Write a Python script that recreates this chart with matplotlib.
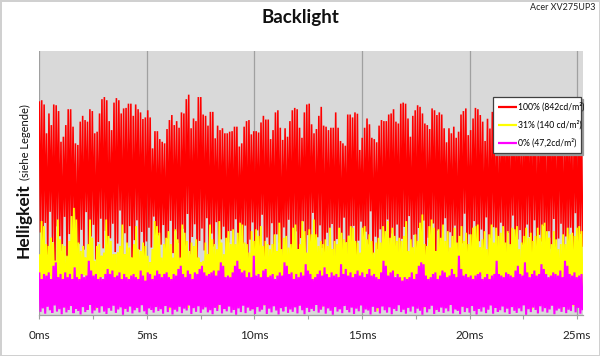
import numpy as np
import matplotlib
matplotlib.use("Agg")
import matplotlib.pyplot as plt

plt.rcParams['font.family'] = ['Lato', 'DejaVu Sans']

# ---- data (brightness, arbitrary units 0..1000; time in ms) ----
t_end = 25.26
x_major = [0, 5, 10, 15, 20, 25]
x_labels = ["0ms", "5ms", "10ms", "15ms", "20ms", "25ms"]
x_minor = [2.5, 7.5, 12.5, 17.5, 22.5]

red_peaks = [
    808, 812, 796, 687, 762, 718, 796, 793, 771, 655,
    674, 718, 778, 778, 712, 649, 643, 731, 753, 737,
    731, 778, 771, 687, 693, 762, 816, 824, 812, 733,
    699, 803, 820, 812, 762, 781, 783, 799, 799, 753,
    796, 778, 766, 741, 747, 774, 747, 630, 695, 695,
    665, 655, 649, 703, 737, 756, 718, 733, 708, 766,
    762, 816, 833, 706, 743, 733, 824, 824, 758, 753,
    716, 768, 768, 668,
    716, 699, 706, 687, 687, 693, 695, 712, 712, 637,
    649, 712, 733, 737, 683, 695, 695, 690, 728, 753,
    739, 739, 665, 699, 766, 774, 708, 662, 706, 674,
    733, 774, 783, 778, 708, 670, 766, 796, 799, 721,
    687, 703, 753, 787, 716, 712, 699, 708, 708, 766,
    708, 658, 649, 640, 758, 758, 747, 766, 761, 624,
    670, 708, 743, 721, 670, 665, 653, 716, 737, 733,
    733, 758, 762, 778, 731, 724, 799, 803, 799, 743,
    674, 753, 774, 793, 787, 762, 724, 718, 703, 781,
    774, 756, 766, 758, 706, 653, 706, 687, 712, 670,
    693, 758, 771, 781, 680, 699, 743, 783, 778, 756,
    731, 658,
    742, 705, 768, 690, 731, 655, 720, 776, 748, 702,
    688, 735, 760, 712, 668, 744, 781, 726, 699, 752,
    710, 672, 738, 765, 695, 718, 758, 729, 684, 740,
    771, 708, 693, 746, 719, 663, 733, 702, 748, 722,
]
red_troughs = [
    312, 265, 348, 228, 390, 276, 205, 335, 298, 242,
    371, 219, 306, 284, 352, 196, 268, 322, 247, 389,
    230, 297, 341, 210, 276, 364, 252, 318, 188, 290,
    345, 238, 270, 395, 224, 309, 261, 336, 201, 283,
    358, 246, 314, 192, 278, 330, 255, 372, 216, 301,
    266, 340, 208, 289, 356, 234, 317, 272, 198, 326,
    250, 382, 229, 295, 343, 213, 280, 327, 244, 366,
    202, 308, 259, 351, 226, 286, 334, 190, 274, 318,
    241, 362, 215, 299, 269, 338, 207, 285, 350, 232,
    320, 256, 379, 211, 293, 264, 347, 222, 305, 273,
    195, 331, 248, 360, 236, 282, 316, 203, 291, 354,
    227, 302, 271, 386, 218, 294, 339, 253, 183, 311,
    262, 344, 209, 287, 328, 245, 368, 221, 300, 258,
    337, 199, 281, 353, 231, 315, 267, 392, 214, 296,
    249, 324, 204, 277, 361, 237, 308, 260, 342, 193,
    288, 333, 223, 374, 251, 303, 217, 329, 275, 357,
    206, 292, 263, 346, 235, 319, 186, 284, 366, 240,
    313, 257, 338, 212, 298, 271, 383, 229, 305, 247,
    355, 200, 279, 323, 243, 369, 216, 290, 332, 261,
    225, 349, 274, 197, 310, 254, 376, 233, 286, 321,
    266, 208, 342, 295, 239, 358, 220, 303, 278, 336,
    191, 317, 250, 363, 228, 289, 345, 214, 297, 270,
    330, 244, 385, 219, 306, 258,
]

yellow_peaks = [
    230, 355, 336, 268, 261, 292, 274, 205, 361, 286,
    268, 261, 224, 280, 374, 405, 361, 274, 242, 261,
    217, 268, 361, 292, 205, 261, 268, 224, 236, 361,
    299, 280, 230, 230, 236, 261, 342, 230, 274, 255,
    217, 268, 336, 249, 242, 274, 261, 224, 199, 249,
    355, 336, 311, 217, 268, 292, 317, 268, 217, 324,
    286, 217, 342, 311, 280, 242, 274, 261, 286, 217,
    199, 205, 274, 230, 342, 286, 268, 249, 355, 274,
    230,
    292, 317, 268, 324, 268, 311, 349, 342, 274, 268,
    236, 317, 280, 324, 299, 336, 261, 280, 268, 249,
    268, 305, 242, 349, 249, 292, 299, 255, 268, 330,
    342, 249, 268, 355, 317, 236, 324, 305, 361, 305,
    261, 280, 268, 286, 261, 330, 249, 280, 268, 330,
    311, 286, 274, 299, 336, 330, 280, 274, 236, 330,
    336, 286, 305, 280, 236, 274, 292, 274, 336, 317,
    355, 292, 330, 299, 280, 292,
    280, 299, 355, 242, 286, 255, 305, 280, 349, 380,
    268, 261, 336, 361, 330, 242, 324, 292, 342, 280,
    317, 255, 299, 330, 274, 299, 336, 280, 311, 268,
    305, 330, 336, 342, 255, 286, 317, 249, 305, 342,
    274, 330, 299, 311, 336, 274, 317, 268, 330, 324,
    336, 249, 274, 299, 330, 292, 311, 280, 299, 330,
    292, 342, 349, 317, 292, 268, 317, 286, 249, 268,
    305, 268, 330, 305, 311, 299, 330, 336, 317,
]
yellow_troughs = [
    85, 42, 120, 63, 148, 30, 97, 71, 134, 52,
    110, 25, 88, 139, 60, 104, 37, 126, 79, 151,
    46, 115, 68, 93, 22, 131, 57, 144, 82, 35,
    101, 66, 128, 49, 157, 74, 18, 112, 90, 137,
    54, 123, 28, 96, 145, 61, 107, 40, 118, 77,
    140, 33, 99, 58, 126, 84, 20, 113, 69, 149,
    44, 106, 81, 135, 27, 92, 62, 121, 50, 154,
    72, 38, 116, 87, 142, 55, 102, 24, 130, 65,
    97, 147, 41, 109, 76, 125, 31, 89, 59, 138,
    83, 19, 117, 67, 152, 48, 103, 36, 129, 74,
    111, 57, 143, 26, 94, 64, 133, 45, 119, 86,
    34, 150, 70, 98, 23, 124, 80, 141, 53, 108,
    63, 136, 29, 91, 115, 47, 156, 78, 39, 127,
    95, 58, 146, 21, 105, 73, 132, 43, 118, 68,
    153, 37, 100, 84, 127, 51, 14, 114, 66, 140,
    90, 32, 122, 75, 148, 56, 107, 27, 135, 61,
    99, 145, 44, 112, 79, 130, 24, 87, 60, 137,
    81, 17, 120, 71, 151, 49, 104, 35, 128, 76,
    113, 54, 142, 30, 96, 65, 134, 42, 121, 88,
    38, 147, 72, 102, 25, 126, 83, 139, 52, 110,
    64, 133, 29, 93, 116, 46, 155, 77, 40, 124,
    98, 57, 144, 22, 106, 70, 131, 45, 117, 67,
    150, 36, 101, 85, 128, 50, 19, 111, 63, 138,
    92, 33, 119, 74, 146, 55,
]

magenta_peaks = [
    161, 136, 155, 149, 161, 136, 186, 199, 143, 155,
    136, 161, 143, 155, 136, 180, 143, 136, 155, 143,
    149, 205, 168, 149, 155, 136, 143, 136, 155, 174,
    155, 168, 143, 149, 161, 136, 155, 143, 136, 149,
    155, 143, 136, 168, 149, 130, 161, 155, 136, 149,
    168, 155, 143, 155, 161, 143, 136, 155, 149, 174,
    186, 155, 143, 168, 155, 136, 161, 155, 174, 186,
    161, 149, 155, 161, 168, 149, 168,
    199, 186, 143, 149, 143, 161, 186, 205, 174, 161,
    168, 143, 161, 143, 224, 149, 155, 143, 168, 174,
    143, 149, 155, 136, 149, 161, 149, 199, 186, 155,
    161, 136, 155, 143, 161, 149, 192, 168, 155, 136,
    143, 155, 168, 149, 180, 155, 143, 161, 149, 155,
    143, 192, 155, 174, 149, 161, 143, 155, 168, 149,
    161, 143, 155, 174, 149, 155, 143, 136, 161, 205,
    186, 149, 161, 168, 143, 155,
    143, 130, 143, 136, 143, 161, 136, 155, 186, 199,
    192, 149, 136, 143, 155, 161, 136, 149, 168, 161,
    143, 149, 174, 155, 143, 224, 174, 149, 155, 143,
    149, 136, 149, 155, 161, 136, 143, 155, 136, 149,
    155, 205, 155, 149, 143, 161, 155, 149, 143, 168,
    186, 155, 149, 199, 161, 143, 155, 168, 149, 155,
    192, 174, 155, 143, 149, 161, 155, 149, 168, 143,
    205, 186, 155, 149, 161, 143, 149, 155,
]
magenta_troughs = [
    12, 25, 5, 31, 18, 8, 36, 14, 22, 3,
    28, 10, 19, 34, 7, 24, 15, 2, 30, 11,
    20, 38, 6, 17, 27, 9, 33, 13, 4, 26,
    16, 35, 8, 21, 29, 1, 23, 12, 32, 6,
    18, 27, 10, 37, 14, 3, 25, 19, 9, 30,
    15, 22, 5, 34, 11, 28, 2, 20, 13, 31,
    7, 24, 17, 36, 4, 26, 12, 33, 8, 21,
    29, 10, 18, 3, 27, 15, 38, 6, 23, 14,
    32, 9, 19, 1, 25, 11, 35, 7, 28, 16,
    22, 5, 30, 13, 20, 37, 4, 24, 10, 33,
    17, 2, 26, 14, 31, 8, 21, 12, 29, 6,
    35, 18, 3, 27, 11, 23, 15, 38, 9, 20,
    32, 5, 25, 16, 1, 30, 13, 22, 7, 34,
    19, 10, 28, 4, 24, 14, 36, 8, 21, 17,
    2, 31, 12, 26, 6, 33, 18, 9, 29, 3,
    23, 15, 37, 11, 20, 5, 27, 13, 32, 7,
    24, 16, 1, 30, 10, 22, 35, 4, 19, 12,
    28, 8, 25, 14, 38, 6, 21, 17, 3, 31,
    11, 26, 9, 34, 15, 2, 23, 13, 29, 7,
    20, 36, 5, 27, 12, 18, 32, 10, 24, 4,
    30, 16, 8, 25, 14, 37, 1, 22, 11, 28,
    19, 6, 33, 13, 26, 9, 21, 35, 3, 17,
    24, 12, 30, 7, 20, 15, 38, 10, 27, 5,
    18,
]

series_labels = ["100% (842cd/m²)", "31% (140 cd/m²)", "0% (47,2cd/m²)"]
series_colors = ["#FF0000", "#FFFF00", "#FF00FF"]
series_widths = [1.15, 1.3, 1.5]


def signal(peaks, troughs):
    n = min(len(peaks), len(troughs))
    y = np.column_stack([peaks[:n], troughs[:n]]).ravel()
    x = np.linspace(0, t_end, len(y))
    return x, y


fig = plt.figure(figsize=(6.0, 3.56), dpi=100)
fig.patch.set_facecolor("white")
ax = fig.add_axes([39.3 / 600, 41 / 356, 543.4 / 600, 264.5 / 356])
ax.set_facecolor("#D9D9D9")

for (pk, tr), lab, col, lw in zip(
        [(red_peaks, red_troughs), (yellow_peaks, yellow_troughs),
         (magenta_peaks, magenta_troughs)],
        series_labels, series_colors, series_widths):
    xs, ys = signal(pk, tr)
    ax.plot(xs, ys, color=col, lw=lw, label=lab, solid_joinstyle="miter",
            solid_capstyle="butt", zorder=2)

ax.set_xlim(0, t_end)
ax.set_ylim(0, 1000)
ax.set_yticks([])
ax.set_xticks(x_major)
ax.set_xticklabels(x_labels, fontsize=8.5, color="#222222")
ax.set_xticks(x_minor, minor=True)
ax.tick_params(axis="x", which="both", direction="out", length=3,
               width=0.8, color="#A0A0A0", pad=8)
ax.grid(axis="x", which="major", color="#A0A0A0", lw=0.9)
for g in ax.get_xgridlines():
    g.set_zorder(0.5)
for s in ["top", "right", "left"]:
    ax.spines[s].set_visible(False)
ax.spines["bottom"].set_color("#A0A0A0")
ax.spines["bottom"].set_linewidth(0.9)
ax.spines["bottom"].set_zorder(3)

leg = ax.legend(loc="upper left",
                bbox_to_anchor=(493 / 600, (356 - 148) / 356, 88 / 600, 51 / 356),
                bbox_transform=fig.transFigure, mode="expand", borderaxespad=0,
                fontsize=6.2, handlelength=2.2, handletextpad=0.1,
                labelspacing=1.0, borderpad=0.6, fancybox=False,
                framealpha=1, edgecolor="#404040",
                shadow={"ox": 1.5, "oy": -1.5, "color": "#9a9a9a", "alpha": 1})
leg.get_frame().set_linewidth(0.9)
leg.set_zorder(5)
for ln in leg.get_lines():
    ln.set_linewidth(1.6)

fig.text(0.5, (356 - 17) / 356, "Backlight", ha="center", va="center",
         fontsize=13.5, fontweight="bold", color="#111111")
fig.text(595 / 600, (356 - 8) / 356, "Acer XV275UP3", ha="right", va="center",
         fontsize=6.5, color="#222222")
fig.text(29 / 600, (356 - 258) / 356, "Helligkeit", rotation=90,
         rotation_mode="anchor", ha="left", va="baseline",
         fontsize=12.5, fontweight="bold", color="#111111")
fig.text(29 / 600, (356 - 180) / 356, "(siehe Legende)", rotation=90,
         rotation_mode="anchor", ha="left", va="baseline",
         fontsize=8, color="#111111")

fig.patch.set_edgecolor("#D0D0D0")
fig.patch.set_linewidth(2)

fig.savefig("out.png", dpi=100)
